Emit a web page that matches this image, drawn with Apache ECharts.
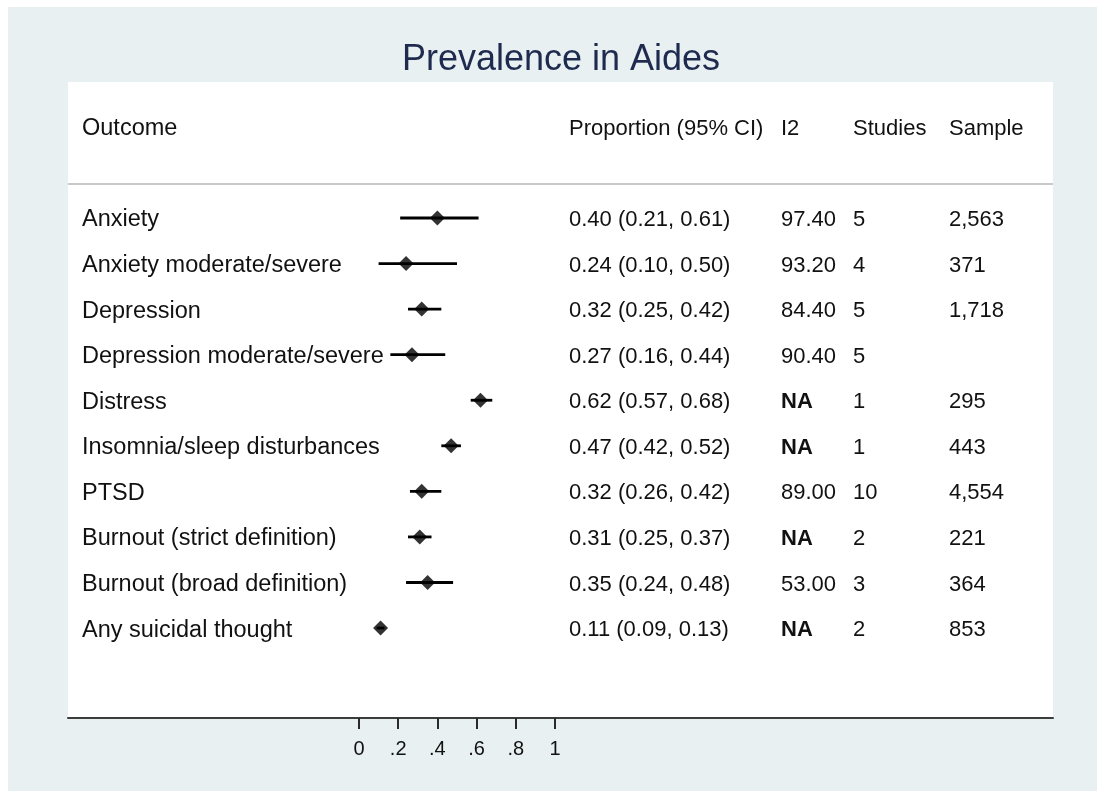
<!DOCTYPE html>
<html>
<head>
<meta charset="utf-8">
<title>Prevalence in Aides</title>
<script src="https://cdn.jsdelivr.net/npm/echarts@6/dist/echarts.min.js"></script>
<style>
  html, body { margin: 0; padding: 0; background: #ffffff; }
  #bg { position: absolute; left: 8px; top: 7px; right: 0; bottom: 0; background: #e8f0f2; }
  #chart { position: absolute; left: 0; top: 0; width: 1097px; height: 791px; }
</style>
</head>
<body>
<div id="bg"></div>
<div id="chart"></div>
<script>
// Pooled prevalence estimates among aides, one row per outcome
const outcomes = [
  'Anxiety',
  'Anxiety moderate/severe',
  'Depression',
  'Depression moderate/severe',
  'Distress',
  'Insomnia/sleep disturbances',
  'PTSD',
  'Burnout (strict definition)',
  'Burnout (broad definition)',
  'Any suicidal thought'
];
const proportion = [0.40, 0.24, 0.32, 0.27, 0.62, 0.47, 0.32, 0.31, 0.35, 0.11];
const ciLower    = [0.21, 0.10, 0.25, 0.16, 0.57, 0.42, 0.26, 0.25, 0.24, 0.09];
const ciUpper    = [0.61, 0.50, 0.42, 0.44, 0.68, 0.52, 0.42, 0.37, 0.48, 0.13];
const i2         = ['97.40', '93.20', '84.40', '90.40', 'NA', 'NA', '89.00', 'NA', '53.00', 'NA'];
const studies    = ['5', '4', '5', '5', '1', '1', '10', '2', '3', '2'];
const sample     = ['2,563', '371', '1,718', '', '295', '443', '4,554', '221', '364', '853'];
const xTicks     = [0, 0.2, 0.4, 0.6, 0.8, 1];
const headers    = ['Outcome', 'Proportion (95% CI)', 'I2', 'Studies', 'Sample'];

// Page geometry (pixels)
const W = 1097, H = 791;
const GRID_LEFT = 68, GRID_RIGHT = 1053, GRID_TOP = 82, GRID_BOTTOM = 718;
const ZERO_X = 359, UNIT_X = 196;          // where 0 sits and how wide one unit is
const ROW0_Y = 218, ROW_PITCH = 45.56;     // first row centre and row spacing
const COL_X = [82, 569, 781, 853, 949];    // table column left edges
const HEADER_Y = 129, RULE_Y = 184;

const FONT = "'Liberation Sans', Arial, sans-serif";
const TEXT_COLOR = '#111111';
const ROW_FONT = 22;
const NAME_FONT = 23.5;                    // outcome column runs a touch wider

const xMin = (GRID_LEFT - ZERO_X) / UNIT_X;
const xMax = (GRID_RIGHT - ZERO_X) / UNIT_X;
const yMin = -(ROW0_Y - GRID_TOP) / ROW_PITCH;
const yMax = yMin + (GRID_BOTTOM - GRID_TOP) / ROW_PITCH;

const fmt = v => v.toFixed(2);
const rowIdx = outcomes.map((_, i) => i);

const chart = echarts.init(document.getElementById('chart'), null, { renderer: 'canvas' });

chart.setOption({
  backgroundColor: 'transparent',
  animation: false,
  title: {
    text: 'Prevalence in Aides',
    left: 556,
    textAlign: 'center',
    top: 37,
    textStyle: { fontFamily: FONT, fontSize: 36, fontWeight: 'normal', color: '#1e2b4f' }
  },
  grid: {
    left: GRID_LEFT, right: W - GRID_RIGHT, top: GRID_TOP, bottom: H - GRID_BOTTOM,
    show: true, backgroundColor: '#ffffff', borderWidth: 0
  },
  xAxis: {
    type: 'value',
    min: xMin, max: xMax,
    splitLine: { show: false },
    axisLine: { show: true, onZero: false, lineStyle: { color: '#3c3c3c', width: 2 } },
    axisTick: { show: true, customValues: xTicks, length: 11, lineStyle: { color: '#2a2a2a', width: 2 } },
    axisLabel: {
      show: true, customValues: xTicks, margin: 21,
      fontFamily: FONT, fontSize: 20, color: TEXT_COLOR,
      formatter: v => (v === 0 || v === 1) ? String(v) : String(v).replace(/^0/, '')
    }
  },
  yAxis: {
    type: 'value', inverse: true, min: yMin, max: yMax,
    show: false, splitLine: { show: false }
  },
  graphic: [
    // column headings
    ...headers.map((h, k) => ({
      type: 'text', x: COL_X[k], y: HEADER_Y, z: 10,
      style: {
        text: h, fontFamily: FONT, fontSize: k === 0 ? NAME_FONT : ROW_FONT,
        fill: TEXT_COLOR, verticalAlign: 'middle', align: 'left'
      }
    })),
    // rule under the headings
    {
      type: 'line', z: 10,
      shape: { x1: GRID_LEFT, y1: RULE_Y, x2: GRID_RIGHT, y2: RULE_Y },
      style: { stroke: '#c9c9c9', lineWidth: 2 }
    }
  ],
  series: [
    {
      // 95% confidence intervals
      type: 'custom',
      name: 'CI',
      clip: false,
      data: rowIdx.map(i => [ciLower[i], ciUpper[i], i]),
      encode: { x: [0, 1], y: 2 },
      renderItem: (params, api) => {
        const a = api.coord([api.value(0), api.value(2)]);
        const b = api.coord([api.value(1), api.value(2)]);
        return {
          type: 'line',
          shape: { x1: a[0], y1: a[1], x2: b[0], y2: b[1] },
          style: { stroke: '#000000', lineWidth: 2.8 }
        };
      }
    },
    {
      // pooled proportions
      type: 'scatter',
      name: 'Proportion',
      symbol: 'diamond',
      symbolSize: 15,
      itemStyle: { color: '#000000' },
      data: rowIdx.map(i => [proportion[i], i]),
      z: 5
    },
    {
      // table text for each row
      type: 'custom',
      name: 'Table',
      clip: false,
      silent: true,
      data: rowIdx.map(i => [0, i]),
      renderItem: (params, api) => {
        const i = params.dataIndex;
        const y = api.coord([0, api.value(1)])[1] + 2;
        const cells = [
          { t: outcomes[i], bold: false, size: NAME_FONT },
          { t: fmt(proportion[i]) + ' (' + fmt(ciLower[i]) + ', ' + fmt(ciUpper[i]) + ')', bold: false, size: ROW_FONT },
          { t: i2[i], bold: i2[i] === 'NA', size: ROW_FONT },
          { t: studies[i], bold: false, size: ROW_FONT },
          { t: sample[i], bold: false, size: ROW_FONT }
        ];
        return {
          type: 'group',
          children: cells.map((c, k) => ({
            type: 'text',
            x: COL_X[k], y: y,
            style: {
              text: c.t, fontFamily: FONT, fontSize: c.size,
              fontWeight: c.bold ? 'bold' : 'normal',
              fill: TEXT_COLOR, align: 'left', verticalAlign: 'middle'
            }
          }))
        };
      }
    }
  ]
});
</script>
</body>
</html>
